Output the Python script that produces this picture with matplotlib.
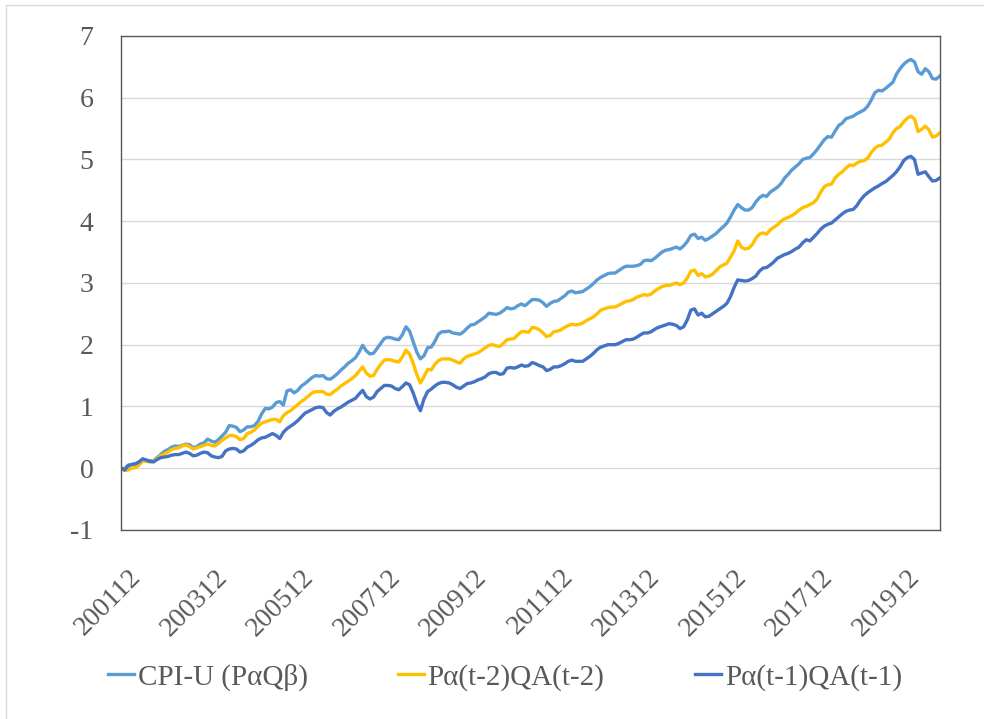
import numpy as np
import pandas as pd
import matplotlib
matplotlib.use('Agg')
import matplotlib.pyplot as plt
import matplotlib.transforms as mtrans
from matplotlib.patches import Rectangle

plt.rcParams['font.family'] = ['Liberation Serif', 'DejaVu Serif']
plt.rcParams['axes.unicode_minus'] = False

# monthly series, 200112 .. 202011
cpi_u = [
    0.00, -0.01, 0.05, 0.06, 0.07, 0.10, 0.15, 0.13, 0.12, 0.12,
    0.17, 0.22, 0.27, 0.30, 0.34, 0.36, 0.35, 0.37, 0.39, 0.38,
    0.33, 0.35, 0.39, 0.41, 0.47, 0.44, 0.42, 0.46, 0.52, 0.58,
    0.69, 0.68, 0.66, 0.59, 0.62, 0.67, 0.67, 0.69, 0.76, 0.88,
    0.97, 0.96, 0.99, 1.06, 1.08, 1.02, 1.25, 1.27, 1.22, 1.26,
    1.33, 1.37, 1.42, 1.47, 1.50, 1.49, 1.50, 1.45, 1.44, 1.48,
    1.53, 1.59, 1.64, 1.70, 1.74, 1.79, 1.88, 1.99, 1.90, 1.85,
    1.86, 1.94, 2.02, 2.10, 2.12, 2.11, 2.09, 2.08, 2.16, 2.29,
    2.22, 2.05, 1.88, 1.77, 1.82, 1.95, 1.96, 2.05, 2.17, 2.21,
    2.21, 2.22, 2.19, 2.18, 2.17, 2.21, 2.27, 2.32, 2.33, 2.37,
    2.41, 2.45, 2.51, 2.50, 2.49, 2.51, 2.55, 2.60, 2.58, 2.59,
    2.63, 2.66, 2.63, 2.68, 2.73, 2.73, 2.72, 2.68, 2.62, 2.67,
    2.70, 2.71, 2.75, 2.79, 2.85, 2.87, 2.84, 2.85, 2.86, 2.90,
    2.94, 2.99, 3.05, 3.09, 3.12, 3.15, 3.16, 3.16, 3.20, 3.24,
    3.27, 3.27, 3.27, 3.28, 3.30, 3.36, 3.37, 3.36, 3.40, 3.45,
    3.50, 3.53, 3.54, 3.56, 3.58, 3.55, 3.60, 3.67, 3.77, 3.79,
    3.72, 3.74, 3.69, 3.72, 3.76, 3.80, 3.86, 3.91, 3.97, 4.07,
    4.18, 4.27, 4.22, 4.18, 4.18, 4.22, 4.31, 4.38, 4.42, 4.40,
    4.47, 4.51, 4.55, 4.61, 4.70, 4.76, 4.83, 4.88, 4.93, 5.00,
    5.02, 5.03, 5.09, 5.16, 5.24, 5.32, 5.37, 5.36, 5.46, 5.55,
    5.59, 5.66, 5.68, 5.70, 5.74, 5.77, 5.80, 5.86, 5.96, 6.08,
    6.12, 6.11, 6.15, 6.20, 6.25, 6.38, 6.47, 6.54, 6.59, 6.62,
    6.58, 6.42, 6.38, 6.47, 6.42, 6.31, 6.30, 6.35,
]

lag2 = [
    0.00, -0.04, -0.03, 0.00, 0.01, 0.05, 0.12, 0.11, 0.10, 0.12,
    0.15, 0.20, 0.23, 0.26, 0.30, 0.32, 0.33, 0.36, 0.38, 0.35,
    0.31, 0.33, 0.35, 0.37, 0.39, 0.37, 0.36, 0.40, 0.45, 0.49,
    0.53, 0.53, 0.51, 0.46, 0.48, 0.56, 0.58, 0.62, 0.68, 0.73,
    0.75, 0.77, 0.79, 0.79, 0.75, 0.85, 0.90, 0.93, 0.98, 1.03,
    1.08, 1.12, 1.17, 1.22, 1.24, 1.24, 1.24, 1.20, 1.19, 1.24,
    1.28, 1.33, 1.37, 1.41, 1.45, 1.50, 1.57, 1.64, 1.54, 1.49,
    1.50, 1.60, 1.68, 1.75, 1.76, 1.75, 1.73, 1.72, 1.80, 1.91,
    1.85, 1.70, 1.52, 1.38, 1.48, 1.60, 1.59, 1.68, 1.74, 1.77,
    1.77, 1.77, 1.75, 1.72, 1.70, 1.77, 1.81, 1.83, 1.85, 1.87,
    1.91, 1.95, 1.99, 2.00, 1.98, 1.97, 2.02, 2.08, 2.09, 2.10,
    2.16, 2.21, 2.21, 2.20, 2.28, 2.27, 2.24, 2.19, 2.13, 2.15,
    2.21, 2.22, 2.24, 2.28, 2.31, 2.33, 2.32, 2.33, 2.35, 2.39,
    2.42, 2.45, 2.50, 2.56, 2.58, 2.60, 2.61, 2.61, 2.64, 2.67,
    2.70, 2.71, 2.73, 2.77, 2.79, 2.81, 2.80, 2.82, 2.87, 2.91,
    2.94, 2.96, 2.96, 2.98, 3.00, 2.97, 3.00, 3.08, 3.19, 3.21,
    3.12, 3.15, 3.10, 3.11, 3.14, 3.20, 3.26, 3.29, 3.32, 3.42,
    3.52, 3.68, 3.58, 3.55, 3.56, 3.62, 3.72, 3.79, 3.81, 3.79,
    3.86, 3.90, 3.94, 4.00, 4.04, 4.06, 4.09, 4.13, 4.18, 4.22,
    4.24, 4.27, 4.30, 4.36, 4.47, 4.56, 4.59, 4.60, 4.70, 4.76,
    4.80, 4.86, 4.91, 4.90, 4.94, 4.97, 4.98, 5.02, 5.11, 5.18,
    5.22, 5.23, 5.28, 5.33, 5.43, 5.50, 5.53, 5.61, 5.67, 5.70,
    5.66, 5.45, 5.49, 5.54, 5.48, 5.36, 5.38, 5.43,
]

lag1 = [
    0.00, -0.03, 0.04, 0.06, 0.07, 0.10, 0.15, 0.13, 0.11, 0.10,
    0.14, 0.17, 0.18, 0.19, 0.21, 0.22, 0.22, 0.24, 0.26, 0.24,
    0.20, 0.21, 0.24, 0.26, 0.25, 0.20, 0.18, 0.17, 0.19, 0.28,
    0.31, 0.32, 0.31, 0.26, 0.28, 0.34, 0.37, 0.41, 0.46, 0.49,
    0.50, 0.53, 0.56, 0.53, 0.48, 0.58, 0.64, 0.68, 0.72, 0.77,
    0.83, 0.89, 0.92, 0.95, 0.98, 0.99, 0.98, 0.90, 0.86, 0.92,
    0.96, 0.99, 1.03, 1.07, 1.10, 1.13, 1.20, 1.26, 1.16, 1.12,
    1.15, 1.24, 1.29, 1.34, 1.34, 1.33, 1.29, 1.27, 1.32, 1.38,
    1.35, 1.22, 1.05, 0.93, 1.12, 1.24, 1.28, 1.33, 1.37, 1.39,
    1.39, 1.38, 1.35, 1.31, 1.29, 1.33, 1.37, 1.38, 1.40, 1.43,
    1.45, 1.48, 1.53, 1.55, 1.55, 1.52, 1.53, 1.62, 1.63, 1.62,
    1.64, 1.67, 1.65, 1.66, 1.71, 1.69, 1.66, 1.64, 1.58, 1.60,
    1.64, 1.64, 1.66, 1.69, 1.73, 1.75, 1.73, 1.73, 1.73, 1.77,
    1.81, 1.86, 1.92, 1.96, 1.98, 2.00, 2.00, 2.00, 2.02, 2.05,
    2.08, 2.08, 2.09, 2.12, 2.16, 2.19, 2.19, 2.21, 2.25, 2.28,
    2.30, 2.32, 2.34, 2.33, 2.31, 2.26, 2.29, 2.40, 2.56, 2.58,
    2.48, 2.51, 2.45, 2.46, 2.50, 2.54, 2.58, 2.62, 2.67, 2.78,
    2.93, 3.05, 3.04, 3.03, 3.04, 3.07, 3.11, 3.19, 3.24, 3.25,
    3.29, 3.34, 3.40, 3.43, 3.46, 3.48, 3.51, 3.55, 3.58, 3.65,
    3.70, 3.68, 3.74, 3.80, 3.87, 3.92, 3.95, 3.97, 4.02, 4.07,
    4.12, 4.16, 4.18, 4.19, 4.25, 4.34, 4.41, 4.46, 4.50, 4.54,
    4.57, 4.61, 4.64, 4.69, 4.74, 4.80, 4.88, 4.98, 5.03, 5.05,
    5.00, 4.76, 4.78, 4.80, 4.72, 4.65, 4.66, 4.70,
]

months = pd.period_range('2001-12', periods=len(cpi_u), freq='M').strftime('%Y%m').tolist()
series_names = ['CPI-U (P\u03b1Q\u03b2)', 'P\u03b1(t-2)QA(t-2)', 'P\u03b1(t-1)QA(t-1)']
colors = ['#5B9BD5', '#FFC000', '#4472C4']

fig = plt.figure(figsize=(9.84, 7.19), dpi=100)
ax = fig.add_axes([0.123, 0.263, 0.832, 0.687])

x = np.arange(len(months))
for y, name, c in zip([cpi_u, lag2, lag1], series_names, colors):
    ax.plot(x, y, color=c, lw=2.4, label=name, solid_joinstyle='round')

ax.set_xlim(0, len(months) - 1)
ax.set_ylim(-1, 7)
ax.set_yticks(range(-1, 8))
ax.yaxis.grid(True, color='#D9D9D9', lw=1)
ax.set_axisbelow(True)

tick_idx = list(range(0, len(months), 24))
ax.set_xticks(tick_idx)
ax.set_xticklabels([months[i] for i in tick_idx], rotation=45, ha='right',
                   rotation_mode='anchor')
ax.tick_params(axis='both', length=0, labelsize=20, colors='#595959')
ax.tick_params(axis='x', labelsize=20, pad=25)
ax.tick_params(axis='y', pad=20)
shift = mtrans.ScaledTranslation(7 / 100, 0, fig.dpi_scale_trans)
for lab in ax.get_xticklabels():
    lab.set_transform(lab.get_transform() + shift)
for s in ax.spines.values():
    s.set_color('#595959')
    s.set_linewidth(1)

leg = fig.legend(loc='center', bbox_to_anchor=(0.513, 0.058), ncol=3, frameon=False,
                 fontsize=21, handlelength=0.9, handletextpad=0.12, columnspacing=3.1)
for t in leg.get_texts():
    t.set_color('#595959')

fig.patches.append(Rectangle((6 / 984, -0.05), 1.2, 1.05 - 5 / 719, transform=fig.transFigure,
                             fill=False, edgecolor='#D9D9D9', lw=1))

plt.savefig('out.png', dpi=100)
